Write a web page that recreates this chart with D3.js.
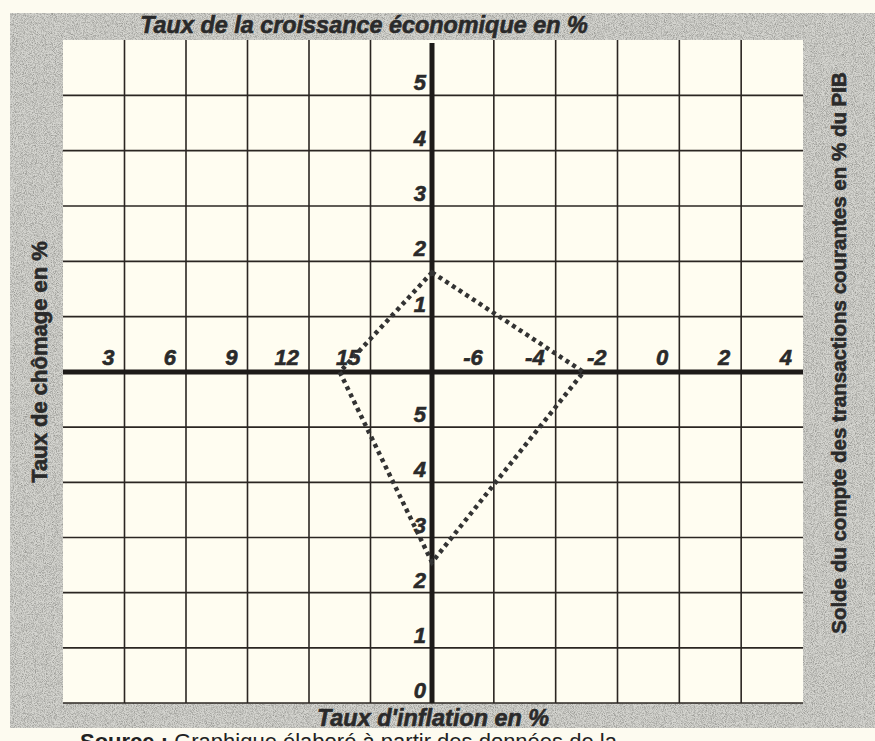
<!DOCTYPE html>
<html><head><meta charset="utf-8">
<script src="https://cdn.jsdelivr.net/npm/d3@7"></script>
<style>html,body{margin:0;padding:0;background:#fdfbf0;}svg{display:block;}</style>
</head><body>
<script>
// ---- data ----
const axisTitles = ["Taux de la croissance économique en %", "Taux  de chômage en %", "Solde du compte des transactions courantes en % du PIB", "Taux d'inflation en %"];
const growthTicks = [1, 2, 3, 4, 5];
const unemploymentTicks = [3, 6, 9, 12, 15];
const balanceTicks = [-6, -4, -2, 0, 2, 4];
const inflationTicks = [0, 1, 2, 3, 4, 5];
const growthValue = 1.8;
const unemploymentValue = 13.5;
const balanceValue = -3.1;
const inflationValue = 2.55;
const sourceLabel = "Source :";
const sourceText = " Graphique élaboré à partir des données de la";

(function () {
const W = 875, H = 741;
const ox = 432, oy = 372, gLeft = 63, gRight = 803, gTop = 40, gBottom = 703;

const xLeft = d3.scaleLinear().domain([0, 18]).range([gLeft, ox]);
const xRight = d3.scaleLinear().domain([-8, 4]).range([ox, gRight]);
const yTop = d3.scaleLinear().domain([0, 6]).range([oy, gTop]);
const yBottom = d3.scaleLinear().domain([6, 0]).range([oy, gBottom]);

const svg = d3.select("body").append("svg").attr("width", W).attr("height", H);
const defs = svg.append("defs");
const f = defs.append("filter").attr("id", "noise").attr("x", 0).attr("y", 0).attr("width", 1).attr("height", 1);
f.append("feTurbulence").attr("type", "fractalNoise").attr("baseFrequency", 1.1).attr("numOctaves", 2).attr("seed", 4).attr("result", "t");
f.append("feColorMatrix").attr("in", "t").attr("type", "matrix")
  .attr("values", "0 0 0 0 0.3  0 0 0 0 0.3  0 0 0 0 0.28  2.2 0 0 0 -0.85");

// page + grey textured frame
svg.append("rect").attr("width", W).attr("height", H).attr("fill", "#fdfbf0");
svg.append("rect").attr("x", 10).attr("y", 13).attr("width", W - 10).attr("height", 715).attr("fill", "#d4d4cf");
svg.append("rect").attr("x", 10).attr("y", 13).attr("width", W - 10).attr("height", 715).attr("fill", "#fff").attr("filter", "url(#noise)");

// cream plotting area
svg.append("rect").attr("x", gLeft).attr("y", gTop).attr("width", gRight - gLeft).attr("height", gBottom - gTop).attr("fill", "#fffdf1");

const g = svg.append("g");
const gridColor = "#2b2622";
const vLines = d3.range(3, 18, 3).map(v => xLeft(v)).concat(d3.range(-6, 4, 2).map(v => xRight(v)));
g.selectAll(".vl").data(vLines).join("line")
  .attr("x1", d => d).attr("x2", d => d).attr("y1", gTop).attr("y2", gBottom)
  .attr("stroke", gridColor).attr("stroke-width", 1.6);
const hLines = d3.range(1, 6).map(v => yTop(v)).concat(d3.range(0, 6).map(v => yBottom(v)));
g.selectAll(".hl").data(hLines).join("line")
  .attr("x1", gLeft).attr("x2", gRight).attr("y1", d => d).attr("y2", d => d)
  .attr("stroke", gridColor).attr("stroke-width", 1.6);

// main axes
g.append("line").attr("x1", gLeft).attr("x2", gRight).attr("y1", oy).attr("y2", oy).attr("stroke", "#1e1b19").attr("stroke-width", 5);
g.append("line").attr("x1", ox).attr("x2", ox).attr("y1", gTop + 3).attr("y2", gBottom).attr("stroke", "#1e1b19").attr("stroke-width", 5);

const font = "'Liberation Sans', Arial, sans-serif";
const ink = "#2a2a2a";
const tickStyle = sel => sel.attr("font-family", font).attr("font-size", 22).attr("font-weight", "bold").attr("font-style", "italic")
  .attr("fill", ink).attr("stroke", ink).attr("stroke-width", 0.6);

g.selectAll(".gt").data(growthTicks).join("text").call(tickStyle)
  .attr("x", ox - 6).attr("y", d => yTop(d) - 5).attr("text-anchor", "end").text(d => d);
g.selectAll(".it").data(inflationTicks).join("text").call(tickStyle)
  .attr("x", ox - 6).attr("y", d => yBottom(d) - 5).attr("text-anchor", "end").text(d => d);
g.selectAll(".ut").data(unemploymentTicks).join("text").call(tickStyle)
  .attr("x", d => xLeft(d) - 10).attr("y", oy - 7).attr("text-anchor", "end").text(d => d);
g.selectAll(".bt").data(balanceTicks).join("text").call(tickStyle)
  .attr("x", d => xRight(d) - 11).attr("y", oy - 7).attr("text-anchor", "end").text(d => d);

// the dotted polygon
const pts = [
  [ox, yTop(growthValue)],
  [xRight(balanceValue), oy],
  [ox, yBottom(inflationValue)],
  [xLeft(unemploymentValue), oy]
];
g.append("path").attr("d", d3.line()(pts) + "Z")
  .attr("fill", "none").attr("stroke", "#333").attr("stroke-width", 4.5).attr("stroke-dasharray", "4 4");

// axis titles
const titleStyle = sel => sel.attr("font-family", font).attr("font-weight", "bold")
  .attr("fill", ink).attr("stroke", ink).attr("stroke-width", 0.6);
svg.append("text").call(titleStyle).attr("font-size", 23.4).attr("font-style", "italic").attr("x", 364).attr("y", 33).attr("text-anchor", "middle").text(axisTitles[0]);
svg.append("text").call(titleStyle).attr("font-size", 23.4).attr("font-style", "italic").attr("x", 433).attr("y", 726).attr("text-anchor", "middle").text(axisTitles[3]);
svg.append("text").call(titleStyle).attr("font-size", 22).attr("transform", "translate(47,362) rotate(-90)").attr("text-anchor", "middle").text(axisTitles[1]);
svg.append("text").call(titleStyle).attr("font-size", 20.5).attr("transform", "translate(846,353) rotate(-90)").attr("text-anchor", "middle").text(axisTitles[2]);

const src = svg.append("text").attr("font-family", font).attr("font-size", 22).attr("fill", "#222").attr("x", 80).attr("y", 749);
src.append("tspan").attr("font-weight", "bold").text(sourceLabel);
src.append("tspan").text(sourceText);
})();
</script>
</body></html>
